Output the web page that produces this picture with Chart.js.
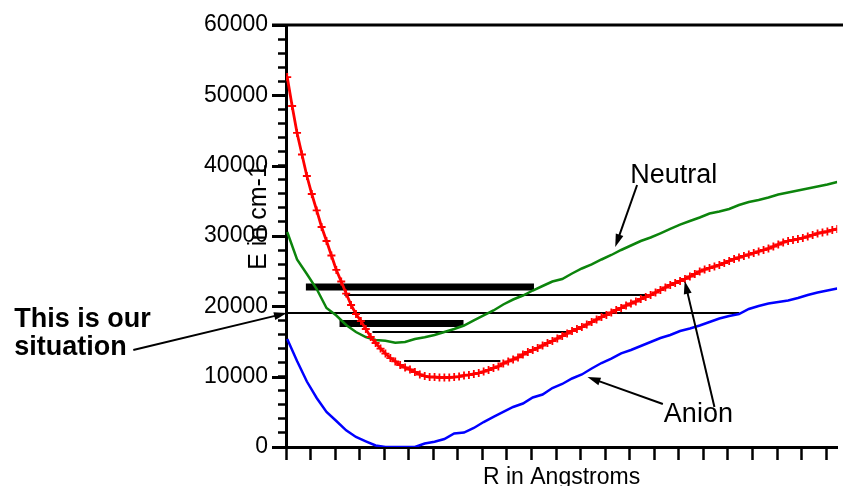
<!DOCTYPE html>
<html>
<head>
<meta charset="utf-8">
<script src="https://cdn.jsdelivr.net/npm/chart.js@4.4.0/dist/chart.umd.min.js"></script>
<style>
  html, body { margin: 0; padding: 0; background: #fff; }
</style>
</head>
<body>
<canvas id="myChart" width="843" height="486"></canvas>
<script>
// R positions (one unit per x tick) for the anion curve with + markers
const anionR = [
  0.05, 0.25, 0.45, 0.65, 0.85, 1.05, 1.25, 1.45, 1.65, 1.85,
  2.05, 2.25, 2.45, 2.65, 2.85, 3.05, 3.25, 3.45, 3.65, 3.85,
  4.05, 4.25, 4.45, 4.65, 4.85, 5.05, 5.25, 5.45, 5.65, 5.85,
  6.05, 6.25, 6.45, 6.65, 6.85, 7.05, 7.25, 7.45, 7.65, 7.85,
  8.05, 8.25, 8.45, 8.65, 8.85, 9.05, 9.25, 9.45, 9.65, 9.85,
  10.05, 10.25, 10.45, 10.65, 10.85, 11.05, 11.25, 11.45, 11.65, 11.85,
  12.05, 12.25, 12.45, 12.65, 12.85, 13.05, 13.25, 13.45, 13.65, 13.85,
  14.05, 14.25, 14.45, 14.65, 14.85, 15.05, 15.25, 15.45, 15.65, 15.85,
  16.05, 16.25, 16.45, 16.65, 16.85, 17.05, 17.25, 17.45, 17.65, 17.85,
  18.05, 18.25, 18.45, 18.65, 18.85, 19.05, 19.25, 19.45, 19.65, 19.85,
  20.05, 20.25, 20.45, 20.65, 20.85, 21.05, 21.25, 21.45, 21.65, 21.85,
  22.05, 22.25, 22.45
];
// red curve, E in cm-1
const anionE = [
  52600, 48480, 44650, 41590, 38530, 35970, 33630, 31280, 29290, 27230,
  25170, 23530, 21820, 20190, 18910, 17910, 16780, 15640, 14790, 14000,
  13290, 12650, 12160, 11660, 11300, 11020, 10660, 10310, 10090, 9950,
  9950, 9880, 9880, 9880, 9950, 10020, 10170, 10240, 10380, 10520,
  10730, 10950, 11230, 11450, 11870, 12160, 12440, 12730, 13150, 13510,
  13790, 14080, 14430, 14790, 15070, 15430, 15780, 16140, 16490, 16780,
  17060, 17420, 17770, 18130, 18480, 18770, 19120, 19480, 19760, 20120,
  20400, 20690, 21040, 21330, 21610, 21970, 22320, 22680, 23030, 23320,
  23600, 23890, 24240, 24600, 24950, 25240, 25450, 25660, 25880, 26160,
  26450, 26730, 26940, 27160, 27370, 27580, 27800, 28010, 28220, 28510,
  28790, 29080, 29290, 29430, 29570, 29720, 29930, 30140, 30360, 30500,
  30640, 30850, 31000
];

// R positions for the green and blue curves
const curveR = [
  0.05, 0.45, 0.85, 1.25, 1.65, 2.05, 2.45, 2.85, 3.25, 3.65,
  4.05, 4.45, 4.85, 5.25, 5.65, 6.05, 6.45, 6.85, 7.25, 7.65,
  8.05, 8.45, 8.85, 9.25, 9.65, 10.05, 10.45, 10.85, 11.25, 11.65,
  12.05, 12.45, 12.85, 13.25, 13.65, 14.05, 14.45, 14.85, 15.25, 15.65,
  16.05, 16.45, 16.85, 17.25, 17.65, 18.05, 18.45, 18.85, 19.25, 19.65,
  20.05, 20.45, 20.85, 21.25, 21.65, 22.05, 22.45
];
// green curve (Neutral)
const neutralE = [
  30570, 26660, 24600, 22460, 19760, 18700, 17350, 16350, 15640, 15210,
  15110, 14830, 14930, 15360, 15600, 15920, 16350, 16780, 17270, 17990,
  18700, 19410, 20260, 20970, 21540, 22250, 22890, 23530, 23890, 24670,
  25380, 25950, 26660, 27300, 28010, 28650, 29290, 29790, 30380, 31000,
  31630, 32130, 32630, 33200, 33480, 33840, 34410, 34830, 35120, 35470,
  35900, 36180, 36470, 36750, 37040, 37320, 37680
];
// blue curve (lowest anion state)
const groundE = [
  15360, 12230, 9310, 6970, 4980, 3700, 2370, 1420, 810, 210,
  0, 0, 0, 0, 500, 750, 1140, 1920, 2060, 2700,
  3550, 4290, 4980, 5690, 6180, 7040, 7460, 8390, 8960, 9740,
  10310, 11160, 11940, 12580, 13320, 13790, 14360, 14930, 15500, 15920,
  16490, 16850, 17270, 17770, 18270, 18630, 18910, 19620, 20050, 20400,
  20620, 20830, 21180, 21610, 21970, 22250, 22540
];

// horizontal energy levels: energy, start R, end R
const levelE    = [22750, 21600, 19050, 17560, 16350, 12230];
const levelFrom = [0.81, 2.38, 0, 2.18, 3.52, 4.81];
const levelTo   = [10.1, 14.99, 18.46, 7.23, 11.43, 8.73];

const FONT = "'Liberation Sans', Arial, sans-serif";

function pairs(xs, ys) {
  return xs.map((x, i) => ({ x: x, y: ys[i] }));
}

const datasets = [
  {
    data: pairs(anionR, anionE),
    borderColor: '#ff0000',
    borderWidth: 2.8,
    pointStyle: 'cross',
    pointRadius: 4,
    pointBorderWidth: 1.8,
    pointBorderColor: '#ff0000'
  },
  {
    data: pairs(curveR, neutralE),
    borderColor: '#0c840c',
    borderWidth: 2.5,
    pointRadius: 0
  },
  {
    data: pairs(curveR, groundE),
    borderColor: '#0000ff',
    borderWidth: 2.5,
    pointRadius: 0
  }
];

levelE.forEach((e, i) => {
  const thick = (i === 0 || i === 3);
  datasets.push({
    data: [{ x: levelFrom[i], y: e }, { x: levelTo[i], y: e }],
    borderColor: '#000',
    borderWidth: thick ? 7 : 2,
    borderCapStyle: 'butt',
    pointRadius: 0
  });
});

// annotations in data coordinates
const labels = [
  { text: 'Neutral', x: 14.02, y: 37540, bold: false, size: 27 },
  { text: 'Anion', x: 15.39, y: 3550, bold: false, size: 27 },
  { text: 'This is our', x: -11.07, y: 17060, bold: true, size: 27 },
  { text: 'situation', x: -11.07, y: 13080, bold: true, size: 27 }
];
const arrows = [
  [-6.22, 13790, 0.04, 19050],
  [14.30, 37250, 13.41, 28440],
  [15.35, 6110, 12.28, 9950],
  [17.45, 5690, 16.24, 23600]
];

function drawArrow(ctx, x1, y1, x2, y2) {
  const a = Math.atan2(y2 - y1, x2 - x1);
  const len = 13, half = 4;
  ctx.beginPath();
  ctx.moveTo(x1, y1);
  ctx.lineTo(x2 - Math.cos(a) * len * 0.7, y2 - Math.sin(a) * len * 0.7);
  ctx.stroke();
  ctx.beginPath();
  ctx.moveTo(x2, y2);
  ctx.lineTo(x2 - len * Math.cos(a) + half * Math.sin(a), y2 - len * Math.sin(a) - half * Math.cos(a));
  ctx.lineTo(x2 - len * Math.cos(a) - half * Math.sin(a), y2 - len * Math.sin(a) + half * Math.cos(a));
  ctx.closePath();
  ctx.fill();
}

const decorations = {
  id: 'decorations',
  afterDraw(chart) {
    const { ctx, chartArea } = chart;
    const x = chart.scales.x, y = chart.scales.y;
    ctx.save();
    ctx.strokeStyle = '#000';
    ctx.fillStyle = '#000';

    // top line and longer major ticks on the energy axis
    ctx.lineWidth = 3;
    ctx.beginPath();
    ctx.moveTo(chartArea.left - 14, chartArea.top);
    ctx.lineTo(chart.width, chartArea.top);
    for (let v = 0; v <= 60000; v += 10000) {
      const py = Math.round(y.getPixelForValue(v)) + 0.5;
      ctx.moveTo(chartArea.left - 14, py);
      ctx.lineTo(chartArea.left, py);
    }
    ctx.stroke();

    // axis titles
    ctx.font = '23px ' + FONT;
    ctx.textAlign = 'center';
    ctx.textBaseline = 'alphabetic';
    ctx.fillText('R in Angstroms', (chartArea.left + chartArea.right) / 2, 484);
    ctx.font = '25px ' + FONT;
    ctx.save();
    ctx.translate(chartArea.left - 20, 217);
    ctx.rotate(-Math.PI / 2);
    ctx.fillText('E in cm-1', 0, 0);
    ctx.restore();

    // labels and arrows
    ctx.textAlign = 'left';
    labels.forEach(l => {
      ctx.font = (l.bold ? 'bold ' : '') + l.size + 'px ' + FONT;
      ctx.fillText(l.text, x.getPixelForValue(l.x), y.getPixelForValue(l.y));
    });
    ctx.lineWidth = 2;
    arrows.forEach(a => {
      drawArrow(ctx, x.getPixelForValue(a[0]), y.getPixelForValue(a[1]),
                x.getPixelForValue(a[2]), y.getPixelForValue(a[3]));
    });
    ctx.restore();
  }
};

new Chart(document.getElementById('myChart').getContext('2d'), {
  type: 'line',
  data: { datasets: datasets },
  options: {
    responsive: false,
    animation: false,
    layout: { padding: { top: 25, right: 0, bottom: 0, left: 0 } },
    elements: { line: { tension: 0 } },
    plugins: {
      legend: { display: false },
      tooltip: { enabled: false }
    },
    scales: {
      x: {
        type: 'linear',
        min: 0,
        max: 22.45,
        ticks: { display: false, stepSize: 1, includeBounds: false, autoSkip: false },
        grid: { drawOnChartArea: false, drawTicks: true, tickLength: 13, tickWidth: 2.5, tickColor: '#000' },
        border: { display: true, color: '#000', width: 3 },
        afterFit(scale) { scale.height = 39; }
      },
      y: {
        min: 0,
        max: 60000,
        ticks: {
          stepSize: 2000,
          autoSkip: false,
          padding: 10,
          color: '#000',
          font: { family: FONT, size: 23 },
          callback: v => (v % 10000 === 0 ? String(v) : '')
        },
        grid: { drawOnChartArea: false, drawTicks: true, tickLength: 8, tickWidth: 2.5, tickColor: '#000' },
        border: { display: true, color: '#000', width: 3 },
        afterFit(scale) { scale.width = 286; }
      }
    }
  },
  plugins: [decorations]
});
</script>
</body>
</html>
